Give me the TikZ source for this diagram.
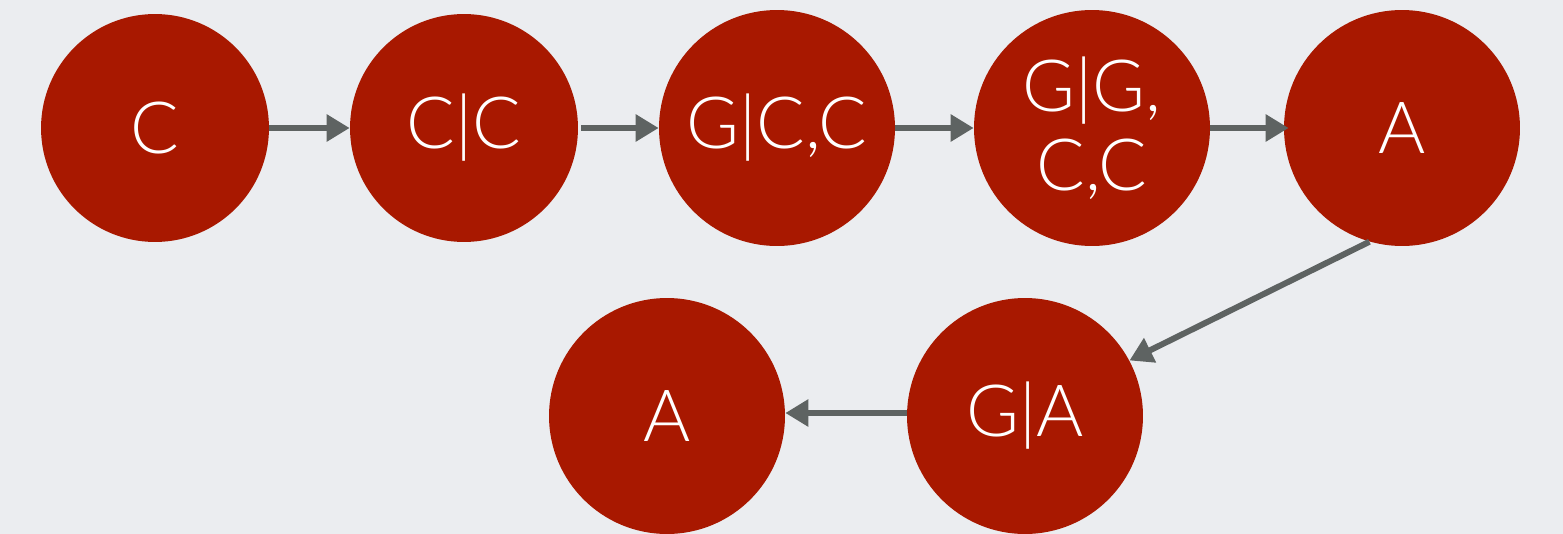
\documentclass[tikz,border=0pt]{standalone}
\usepackage{fontspec}
\setmainfont{Lato}[UprightFont=* Light]
\usepackage{tikz}
\usetikzlibrary{arrows.meta}

\definecolor{bg}{RGB}{235,237,240}
\definecolor{dotred}{RGB}{168,24,0}
\definecolor{edgegray}{RGB}{94,99,98}

\begin{document}
\begin{tikzpicture}[x=0.02cm,y=-0.02cm]
\tikzstyle{state}=[circle,fill=dotred,text=white,inner sep=0pt,minimum size=4.72cm,
  align=center,font=\fontsize{41}{45}\selectfont]
\tikzstyle{small}=[minimum size=4.56cm]
\tikzstyle{edge}=[draw=edgegray,line width=0.12cm,-{Triangle[length=0.46cm,width=0.52cm]}]
\fill [bg] (0,0) rectangle (1563,534);
\node [state,small] (c1) at (155,128) {C};
\node [state,small] (c2) at (464,128) {C|C};
\node [state] (c3) at (777,128) {G|C,C};
\node [state] (c4) at (1092,128) {G|G,\\C,C};
\node [state] (a1) at (1402,128) {A};
\node [state] (ga) at (1025,416) {G|A};
\node [state] (a2) at (667,416) {A};
\draw [edge] (c1) -- (c2);
\draw [edge] ([xshift=0.06cm]c2.east) -- (c3);
\draw [edge] (c3) -- (c4);
\draw [edge] (c4) -- ([xshift=0.1cm]a1.west);
\draw [edge] (a1.254) -- (ga.28);
\draw [edge] (ga.west |- 0,413) -- (a2.east |- 0,413);
\end{tikzpicture}
\end{document}
